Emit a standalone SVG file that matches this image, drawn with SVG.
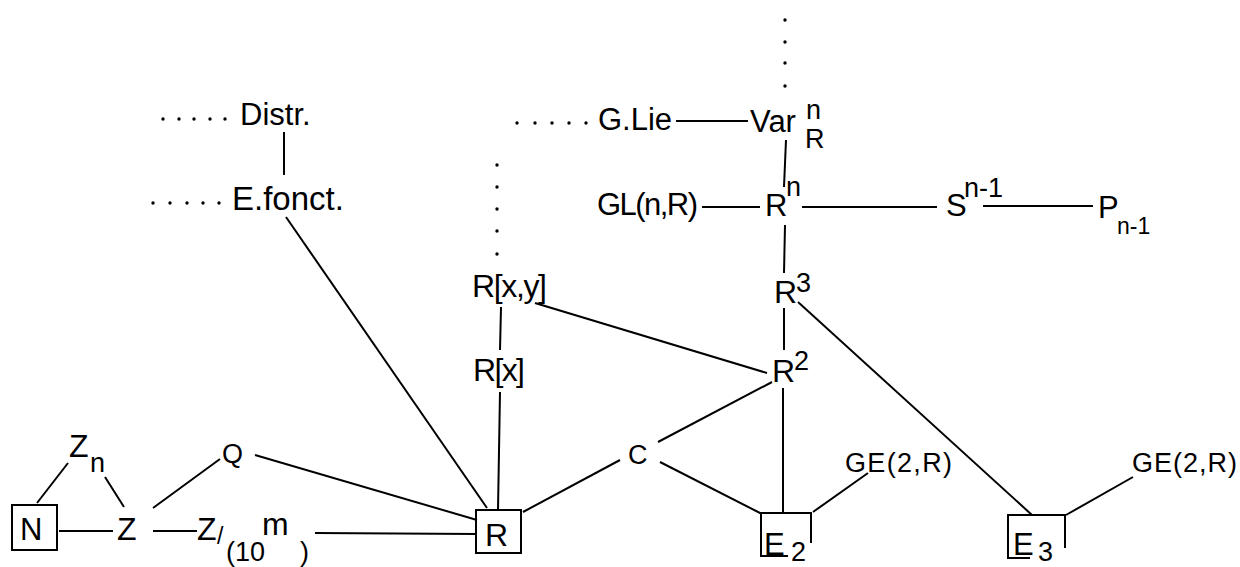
<svg xmlns="http://www.w3.org/2000/svg" width="1240" height="567" viewBox="0 0 1240 567">
<style>
text{font-family:"Liberation Sans",Arial,sans-serif;font-size:31px;fill:#000}
.b{font-size:32px}
.s{font-size:27px}
.ss{font-size:23px}
.m{font-size:27px}
#connectors line,#connectors path,.box{stroke:#000;stroke-width:2;fill:none}
.dot{fill:#000}
</style>
<rect width="1240" height="567" fill="#fff"/>
<g id="connectors">
<line x1="284" y1="132" x2="284" y2="175"/>
<line x1="286" y1="217" x2="487" y2="508"/>
<line x1="676" y1="121" x2="748" y2="121"/>
<line x1="786" y1="140" x2="784" y2="187"/>
<line x1="702" y1="207" x2="760" y2="207"/>
<line x1="802" y1="207" x2="937" y2="207"/>
<line x1="983" y1="206" x2="1093" y2="206"/>
<line x1="785" y1="225" x2="784" y2="273"/>
<line x1="784" y1="308" x2="784" y2="350"/>
<line x1="783" y1="388" x2="783" y2="513"/>
<line x1="535" y1="303" x2="767" y2="373"/>
<line x1="501" y1="307" x2="500" y2="350"/>
<line x1="500" y1="392" x2="498" y2="510"/>
<line x1="798" y1="302" x2="1032" y2="515"/>
<line x1="772" y1="382" x2="658" y2="442"/>
<line x1="523" y1="512" x2="620" y2="460"/>
<line x1="660" y1="462" x2="762" y2="514"/>
<line x1="813" y1="512" x2="868" y2="473"/>
<line x1="1066" y1="515" x2="1133" y2="477"/>
<line x1="37" y1="503" x2="68" y2="463"/>
<line x1="105" y1="477" x2="124" y2="507"/>
<line x1="59" y1="531" x2="113" y2="531"/>
<line x1="153" y1="508" x2="220" y2="459"/>
<line x1="255" y1="455" x2="477" y2="520"/>
<line x1="153" y1="531" x2="197" y2="531"/>
<line x1="315" y1="533" x2="477" y2="534"/>
<g class="dots">
<circle class="dot" cx="163" cy="119" r="1.7"/><circle class="dot" cx="179" cy="119" r="1.7"/><circle class="dot" cx="194" cy="119" r="1.7"/><circle class="dot" cx="210" cy="119" r="1.7"/><circle class="dot" cx="225" cy="119" r="1.7"/>
<circle class="dot" cx="153" cy="203" r="1.7"/><circle class="dot" cx="170" cy="203" r="1.7"/><circle class="dot" cx="187" cy="203" r="1.7"/><circle class="dot" cx="203" cy="203" r="1.7"/><circle class="dot" cx="219" cy="203" r="1.7"/>
<circle class="dot" cx="517" cy="123" r="1.7"/><circle class="dot" cx="535" cy="123" r="1.7"/><circle class="dot" cx="552" cy="123" r="1.7"/><circle class="dot" cx="569" cy="123" r="1.7"/><circle class="dot" cx="586" cy="123" r="1.7"/>
<circle class="dot" cx="497" cy="165" r="1.7"/><circle class="dot" cx="497" cy="187" r="1.7"/><circle class="dot" cx="497" cy="209" r="1.7"/><circle class="dot" cx="497" cy="231" r="1.7"/><circle class="dot" cx="497" cy="254" r="1.7"/>
<circle class="dot" cx="785" cy="20" r="1.7"/><circle class="dot" cx="785" cy="42" r="1.7"/><circle class="dot" cx="785" cy="63" r="1.7"/><circle class="dot" cx="785" cy="86" r="1.7"/>
</g>
</g>
<g id="distr"><text x="240" y="125">Distr.</text></g>
<g id="efonct"><text x="232" y="210" style="font-size:33px">E.fonct.</text></g>
<g id="glie"><text x="598" y="130">G.Lie</text></g>
<g id="var"><text x="750" y="132">Var</text><text class="s" x="806" y="119">n</text><text class="s" x="805" y="148">R</text></g>
<g id="gl"><text x="597" y="215" textLength="101">GL(n,R)</text></g>
<g id="rn"><text x="765" y="216">R</text><text class="s" x="786" y="196">n</text></g>
<g id="sn1"><text x="946" y="216">S</text><text class="s" x="964" y="197">n-1</text></g>
<g id="pn1"><text x="1098" y="218">P</text><text class="ss" x="1117" y="234">n-1</text></g>
<g id="rxy"><text class="b" x="472" y="297" textLength="75">R[x,y]</text></g>
<g id="rx"><text class="b" x="473" y="381" textLength="52">R[x]</text></g>
<g id="r3"><text class="b" x="774" y="303">R</text><text class="s" x="796" y="292">3</text></g>
<g id="r2"><text class="b" x="772" y="382">R</text><text class="s" x="794" y="370">2</text></g>
<g id="zn"><text class="b" x="69" y="457">Z</text><text class="s" x="90" y="472">n</text></g>
<g id="n"><rect class="box" x="12" y="505" width="45" height="45"/><text x="20" y="540">N</text></g>
<g id="z"><text class="b" x="117" y="540">Z</text></g>
<g id="q"><text class="m" x="222" y="463">Q</text></g>
<g id="z10m"><text class="b" x="197" y="540">Z</text><text class="ss" x="217" y="544">/</text><text class="m" x="226" y="561">(10</text><text x="262" y="535" style="font-size:32px">m</text><text class="m" x="300" y="561">)</text></g>
<g id="r"><rect class="box" x="476" y="510" width="45" height="43"/><text class="b" x="485" y="546">R</text></g>
<g id="c"><text class="m" x="628" y="464">C</text></g>
<g id="e2"><path class="box" d="M811,543 V513 H761 V556 H788"/><text x="764" y="555">E</text><text class="m" x="791" y="561">2</text></g>
<g id="ge1"><text class="m" x="845" y="472" textLength="107">GE(2,R)</text></g>
<g id="e3"><path class="box" d="M1065,548 V515 H1008 V558 H1030"/><text x="1013" y="555">E</text><text class="m" x="1038" y="561">3</text></g>
<g id="ge2"><text class="m" x="1132" y="472" textLength="105">GE(2,R)</text></g>
</svg>
